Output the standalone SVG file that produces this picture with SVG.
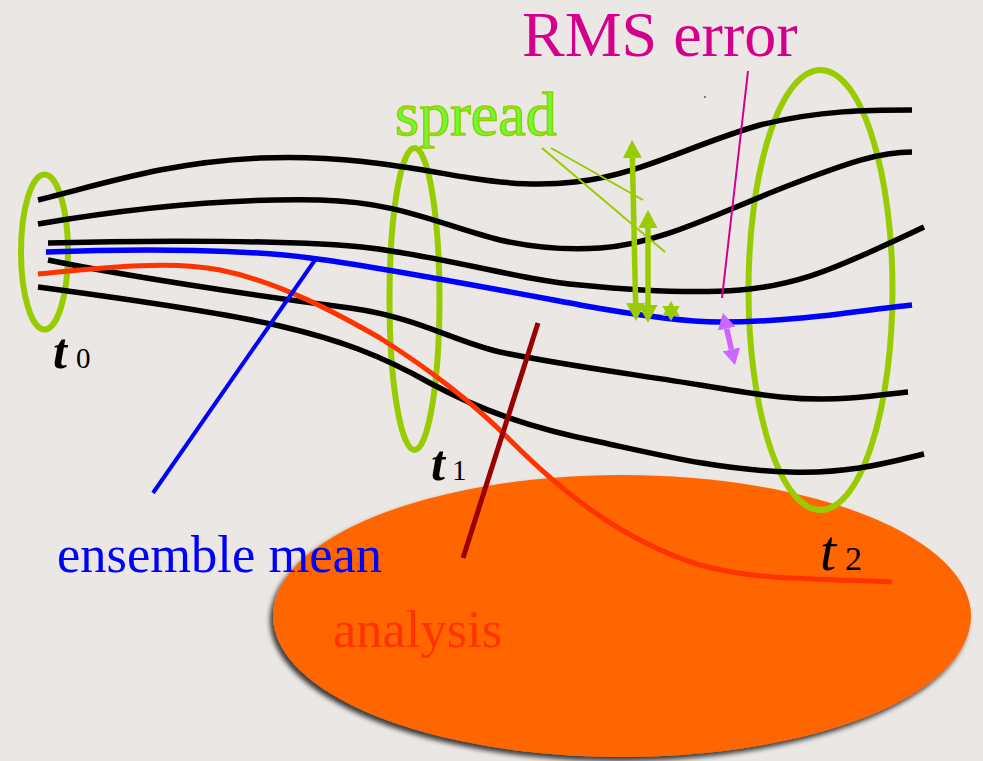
<svg xmlns="http://www.w3.org/2000/svg" width="983" height="761" viewBox="0 0 983 761">
  <style>
    .member { fill: none; stroke: #000; stroke-width: 5.5; stroke-linecap: butt; }
    .mean { fill: none; stroke: #0000FF; stroke-width: 5.5; }
    .analysis-path { fill: none; stroke: #FF3300; stroke-width: 5; }
    .time-ring { fill: none; stroke: #99CC00; stroke-width: 6; }
    .serif { font-family: "Liberation Serif", "Times New Roman", serif; }
    .tlabel { font-family: "Liberation Serif", "Times New Roman", serif; fill: #000; }
    .tlabel .t { font-style: italic; }
    .tlabel .bold { font-weight: bold; }
  </style>
  <defs>
    <filter id="softShadow" x="-10%" y="-10%" width="120%" height="125%">
      <feDropShadow dx="-3" dy="4" stdDeviation="2.5" flood-color="#000" flood-opacity="0.75"/>
    </filter>
    <marker id="greenHead" viewBox="0 -9.5 18 19" markerWidth="18" markerHeight="19" refX="0" refY="0" markerUnits="userSpaceOnUse" orient="auto-start-reverse">
      <path d="M0,-9.5 L18,0 L0,9.5 Z" fill="#99CC00"/>
    </marker>
    <marker id="violetHead" viewBox="0 -9 16 18" markerWidth="16" markerHeight="18" refX="0" refY="0" markerUnits="userSpaceOnUse" orient="auto-start-reverse">
      <path d="M0,-9 L16,0 L0,9 Z" fill="#CC66FF"/>
    </marker>
  </defs>

  <!-- background -->
  <rect x="0" y="0" width="983" height="761" fill="#EAE7E4"/>

  <!-- analysis region -->
  <g id="analysis-region">
    <ellipse cx="622" cy="616" rx="349" ry="141" fill="#FF6600" filter="url(#softShadow)"/>
  </g>

  <!-- time slices -->
  <g id="slice-t0"><ellipse class="time-ring" cx="44.5" cy="252" rx="23.5" ry="77.5"/></g>
  <g id="slice-t1"><ellipse class="time-ring" cx="414.5" cy="299" rx="25" ry="151"/></g>
  <g id="slice-t2"><ellipse class="time-ring" cx="820.5" cy="290" rx="72" ry="220"/></g>

  <!-- trajectories and pointers -->
  <g id="connectors">
    <g id="ensemble-members">
      <path class="member" d="M38,200 C110,182 170,162 260,158 C350,154 420,170 470,178 C510,184 540,186 575,182 C640,175 690,145 760,125 C820,110 870,110 912,110"/>
      <path class="member" d="M38,224 C120,210 220,198 320,200 C400,202 440,225 500,240 C540,249 570,250 600,248 C660,244 720,212 790,185 C850,162 880,152 912,152"/>
      <path class="member" d="M48,243 C150,240 300,240 370,248 C450,258 520,280 580,285 C630,290 690,294 740,290 C800,285 840,265 870,252 C890,243 905,236 924,227"/>
      <path class="member" d="M48,260 C120,275 250,295 350,308 C420,318 450,340 500,352 C560,365 640,375 700,385 C760,395 800,402 850,398 C880,396 895,393 908,392"/>
      <path class="member" d="M38,287 C120,298 220,312 280,326 C340,340 380,355 430,383 C480,410 530,428 600,442 C660,455 720,470 790,472 C850,474 890,462 924,454"/>
    </g>
    <path id="mean-track" class="mean" d="M46,252 C150,248 250,250 310,258 C380,267 500,290 580,305 C630,314 680,322 720,322 C800,322 860,310 912,305"/>
    <path id="analysis-track" class="analysis-path" d="M38,274 C100,268 170,260 220,270 C280,282 340,315 380,338 C430,370 470,400 510,440 C560,490 620,540 700,565 C760,582 830,578 892,582"/>

    <!-- label leaders -->
    <line x1="315" y1="260" x2="153" y2="493" stroke="#0000FF" stroke-width="4"/>
    <line x1="538" y1="323" x2="463" y2="558" stroke="#990000" stroke-width="5"/>
    <line x1="748" y1="71" x2="722" y2="298" stroke="#D4008C" stroke-width="2"/>
    <line x1="542" y1="148" x2="665" y2="252" stroke="#99CC00" stroke-width="2"/>
    <line x1="551" y1="148" x2="643" y2="200" stroke="#99CC00" stroke-width="2"/>

    <!-- spread arrows -->
    <line x1="632.4" y1="158" x2="635.6" y2="303" stroke="#99CC00" stroke-width="5.5" marker-start="url(#greenHead)" marker-end="url(#greenHead)"/>
    <line x1="648" y1="228" x2="648" y2="305" stroke="#99CC00" stroke-width="5.5" marker-start="url(#greenHead)" marker-end="url(#greenHead)"/>
    <polygon points="671,301 673.89,306 679.66,306 676.77,311 679.66,316 673.89,316 671,321 668.11,316 662.34,316 665.23,311 662.34,306 668.11,306" fill="#99CC00"/>

    <!-- RMS error arrow -->
    <line x1="726.6" y1="328.6" x2="731.4" y2="349.4" stroke="#CC66FF" stroke-width="5.5" marker-start="url(#violetHead)" marker-end="url(#violetHead)"/>
  </g>

  <circle cx="705" cy="97" r="1" fill="#555"/>

  <!-- labels -->
  <g id="label-rms">
    <text class="serif" x="522" y="56" font-size="64" fill="#D4008C">RMS error</text>
  </g>
  <g id="label-spread">
    <text class="serif" x="395" y="135" font-size="62" fill="#66FF33" stroke="#99CC00" stroke-width="1.5">spread</text>
  </g>
  <g id="label-ensemble-mean">
    <text class="serif" x="57" y="572" font-size="52.5" fill="#0000FF">ensemble mean</text>
  </g>
  <g id="label-analysis">
    <text class="serif" x="333" y="647" font-size="52.5" fill="#FF3300">analysis</text>
  </g>
  <g id="label-t0">
    <text class="tlabel" y="368"><tspan class="t bold" x="53" font-size="50">t</tspan><tspan x="76" font-size="29">0</tspan></text>
  </g>
  <g id="label-t1">
    <text class="tlabel" y="480"><tspan class="t bold" x="431" font-size="50">t</tspan><tspan x="452" font-size="29">1</tspan></text>
  </g>
  <g id="label-t2">
    <text class="tlabel" y="570"><tspan class="t" x="820" font-size="58">t</tspan><tspan x="845" font-size="34">2</tspan></text>
  </g>
</svg>
